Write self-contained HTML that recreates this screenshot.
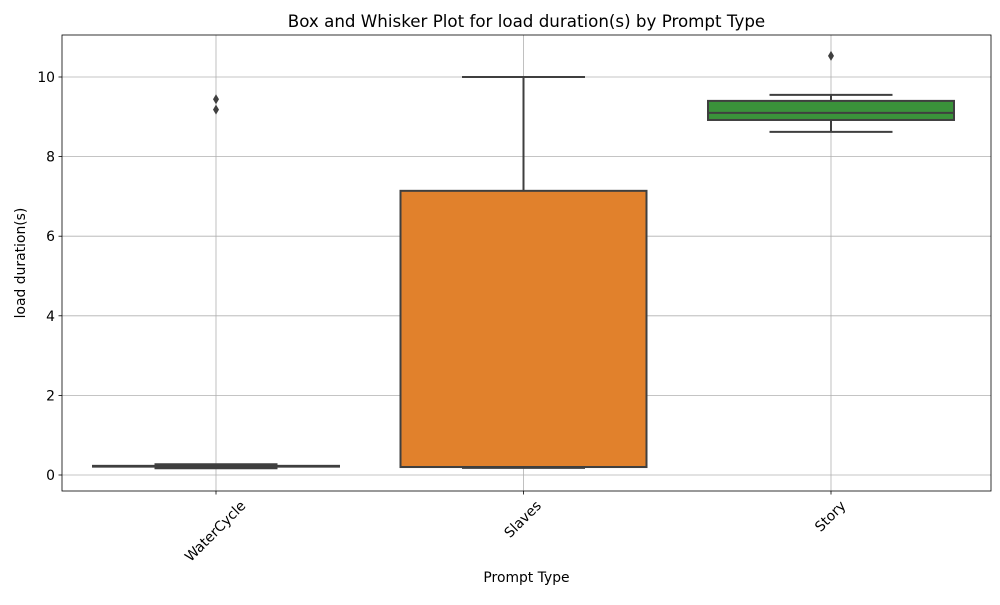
<!DOCTYPE html>
<html><head><meta charset="utf-8"><style>
body{margin:0;background:#fff;font-family:"Liberation Sans","DejaVu Sans",sans-serif}
svg text{font-family:"DejaVu Sans","Liberation Sans",sans-serif;fill:#000}
</style></head><body>
<svg id="c" width="1000" height="600"></svg>
<script>
const categories=["WaterCycle","Slaves","Story"];
const whisLo=[0.17,0.18,8.62];
const q1=[0.21,0.20,8.92];
const medians=[0.22,0.20,9.10];
const q3=[0.23,7.14,9.40];
const whisHi=[0.27,10.0,9.55];
const outliers=[[9.44,9.18],[],[10.53]];
const boxColors=["#3274a1","#e1812c","#3a923a"];
const yTicks=[0,2,4,6,8,10];
const L=62,R=991,T=35,B=491;
const y=v=>475-v*39.8;
const step=307.5;
const x=i=>216+step*i;
const svg=document.getElementById('c');
const NS="http://www.w3.org/2000/svg";
function mk(t,a,p){const e=document.createElementNS(NS,t);for(const k in a)e.setAttribute(k,a[k]);(p||svg).appendChild(e);return e;}
let e;
yTicks.forEach(v=>{e=mk('line',{x1:L,x2:R,y1:y(v),y2:y(v),stroke:'#b0b0b0','stroke-width':0.8});

e=mk('line',{x1:L-3.5,x2:L,y1:y(v),y2:y(v),stroke:'#000','stroke-width':0.8});

e=mk('text',{x:L-7,y:y(v)+5,'text-anchor':'end','font-size':13.9});e.textContent=v;
});
categories.forEach((c,i)=>{e=mk('line',{x1:x(i),x2:x(i),y1:T,y2:B,stroke:'#b0b0b0','stroke-width':0.8});
});
const bw=246;
categories.forEach((c,i)=>{
const g=mk('g',{});
const cx=x(i),st='#3f3f3f';
mk('line',{x1:cx,x2:cx,y1:y(q3[i]),y2:y(whisHi[i]),stroke:st,'stroke-width':2},g);
mk('line',{x1:cx,x2:cx,y1:y(q1[i]),y2:y(whisLo[i]),stroke:st,'stroke-width':2},g);
mk('rect',{x:cx-bw/2,y:y(q3[i]),width:bw,height:Math.max(0.5,y(q1[i])-y(q3[i])),fill:boxColors[i],stroke:st,'stroke-width':2},g);
mk('line',{x1:cx-bw/2,x2:cx+bw/2,y1:y(medians[i]),y2:y(medians[i]),stroke:st,'stroke-width':2},g);
mk('line',{x1:cx-bw/4,x2:cx+bw/4,y1:y(whisHi[i]),y2:y(whisHi[i]),stroke:st,'stroke-width':2},g);
mk('line',{x1:cx-bw/4,x2:cx+bw/4,y1:y(whisLo[i]),y2:y(whisLo[i]),stroke:st,'stroke-width':2},g);
outliers[i].forEach(o=>{const p=mk('path',{d:`M${cx},${y(o)-5} L${cx+3},${y(o)} L${cx},${y(o)+5} L${cx-3},${y(o)} Z`,fill:st},g);
});
e=mk('line',{x1:cx,x2:cx,y1:B,y2:B+3.5,stroke:'#000','stroke-width':0.8});

e=mk('text',{'text-anchor':'middle','font-size':13.9});e.textContent=c;

const w=e.getComputedTextLength();const h=w/2*0.7071+12;
e.setAttribute('transform',`translate(${cx-1},${B+h}) rotate(-45)`);
e.setAttribute('dy','5');
});
e=mk('rect',{x:L,y:T,width:R-L,height:B-T,fill:'none',stroke:'#000','stroke-width':0.8});

e=mk('text',{x:(L+R)/2,y:27,'text-anchor':'middle','font-size':16.7});e.textContent="Box and Whisker Plot for load duration(s) by Prompt Type";

e=mk('text',{x:(L+R)/2,y:582,'text-anchor':'middle','font-size':13.9});e.textContent="Prompt Type";

e=mk('text',{'text-anchor':'middle','font-size':13.9,transform:`translate(25,${(T+B)/2}) rotate(-90)`});e.textContent="load duration(s)";

</script>
</body></html>
